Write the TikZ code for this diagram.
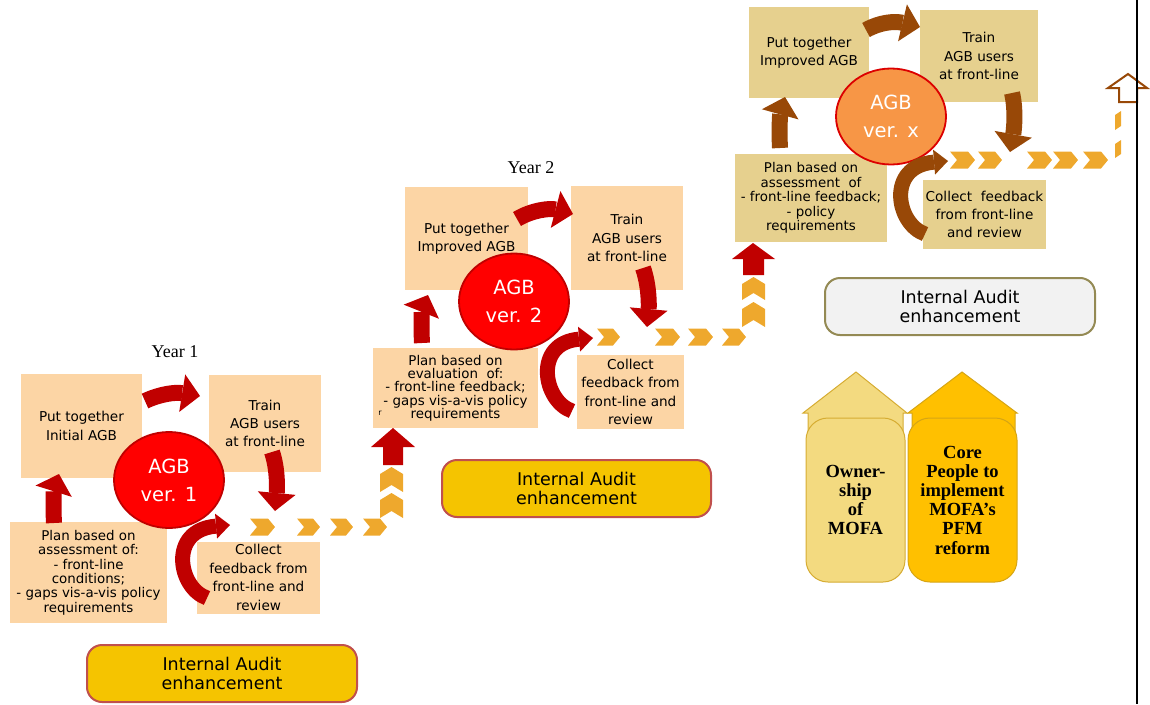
\documentclass[tikz,border=0pt]{standalone}
\usepackage{fontspec}
\setmainfont{DejaVu Sans}
\newfontfamily\yearfont{Liberation Serif}
\usetikzlibrary{arrows.meta,shapes.geometric}

\definecolor{peach}{RGB}{252,213,165}
\definecolor{tan}{RGB}{230,208,142}
\definecolor{arrred}{RGB}{192,0,0}
\definecolor{arrbrown}{RGB}{152,72,7}
\definecolor{chevcol}{RGB}{238,168,45}
\definecolor{circred}{RGB}{255,0,0}
\definecolor{circedge}{RGB}{192,0,0}
\definecolor{circorange}{RGB}{247,150,70}
\definecolor{circxedge}{RGB}{220,0,0}
\definecolor{iagold}{RGB}{245,196,0}
\definecolor{iaedge}{RGB}{192,80,77}
\definecolor{iagrey}{RGB}{242,242,242}
\definecolor{iagreyedge}{RGB}{148,138,84}
\definecolor{houselight}{RGB}{243,218,128}
\definecolor{houselightedge}{RGB}{214,172,50}
\definecolor{housegold}{RGB}{255,192,0}
\definecolor{housegoldedge}{RGB}{214,165,20}

% right-pointing chevron: x0, x1, y centre
\newcommand\chevright[3]{\fill[chevcol] (#1,#3-8.5) -- (#2-7,#3-8.5) -- (#2,#3) -- (#2-7,#3+8.5) -- (#1,#3+8.5) -- (#1+7,#3) -- cycle;}
% up-pointing chevron: x0, x1, y top, y bottom
\newcommand\chevup[4]{\fill[chevcol] (#1,#4) -- (#1,#3+7) -- ({(#1+#2)/2},#3) -- (#2,#3+7) -- (#2,#4) -- ({(#1+#2)/2},#4-7) -- cycle;}

\begin{document}
\begin{tikzpicture}[x=1pt,y=-1pt,
  box/.style={inner sep=0pt, align=center, font=\fontsize{13.6}{18.4}\selectfont},
  peachbox/.style={box, fill=peach},
  tanbox/.style={box, fill=tan},
  planfont/.style={font=\fontsize{13.4}{14.4}\selectfont},
  agb/.style={ellipse, minimum width=110, minimum height=96, inner sep=0pt, line width=1.8pt,
    text=white, align=center, font=\fontsize{19.5}{28}\selectfont},
  iabox/.style={rounded corners=15pt, line width=2pt, minimum width=269, minimum height=57,
    inner sep=0pt, align=center, font=\fontsize{17.5}{19.5}\selectfont},
  yearlbl/.style={font=\yearfont\fontsize{18}{20}\selectfont},
  housetext/.style={rounded corners=22pt, line width=1pt, minimum height=164, inner sep=0pt,
    align=center, font=\yearfont\bfseries\fontsize{18.5}{19.2}\selectfont},
  bigred/.style={line width=16pt, draw=arrred, -{Triangle[width=38pt,length=18pt,line width=0pt]}},
  bigbrown/.style={line width=16pt, draw=arrbrown, -{Triangle[width=38pt,length=18pt,line width=0pt]}},
  curlred/.style={line width=15pt, draw=arrred, -{Triangle[width=25pt,length=14pt,line width=0pt]}},
  curlbrown/.style={line width=15pt, draw=arrbrown, -{Triangle[width=25pt,length=14pt,line width=0pt]}}
]
\useasboundingbox (0,0) rectangle (1150,704);

% ---------------- Year 1 cycle ----------------
\node[yearlbl] (y1) at (175,352) {Year 1};
\node[peachbox, minimum width=121, minimum height=104] (p1) at (81.5,426) {Put together\\Initial AGB};
\node[peachbox, minimum width=112, minimum height=97] (t1) at (265,423.5) {Train\\AGB users\\at front-line};
\node[peachbox, planfont, minimum width=157, minimum height=101] (l1) at (88.5,572.5)
  {Plan based on\\assessment of:\\- front-line\\conditions;\\- gaps vis-a-vis policy\\requirements};
\node[peachbox, minimum width=123, minimum height=72] (c1) at (258.5,577.5) {Collect\\feedback from\\front-line and\\review};
\node[agb, fill=circred, draw=circedge] (v1) at (169,480) {AGB\\ver. 1};

% ---------------- Year 2 cycle ----------------
\node[yearlbl] (y2) at (531,168) {Year 2};
\node[peachbox, minimum width=123, minimum height=103] (p2) at (466.5,238.5) {Put together\\Improved AGB};
\node[peachbox, minimum width=112, minimum height=104] (t2) at (627,238) {Train\\AGB users\\at front-line};
\node[peachbox, font=\fontsize{13.4}{13.3}\selectfont, minimum width=165, minimum height=80] (l2) at (455.5,388)
  {Plan based on\\evaluation\ \ of:\\- front-line feedback;\\- gaps vis-a-vis policy\\requirements};
\node[font=\fontsize{8}{9}\selectfont, inner sep=0pt] (rr) at (380,413) {r};
\node[peachbox, minimum width=107, minimum height=74] (c2) at (630.5,392) {Collect\\feedback from\\front-line and\\review};
\node[agb, fill=circred, draw=circedge] (v2) at (514,301.5) {AGB\\ver. 2};

% ---------------- Year x cycle ----------------
\node[tanbox, minimum width=120, minimum height=91] (p3) at (809,52.5) {Put together\\Improved AGB};
\node[tanbox, minimum width=118, minimum height=92] (t3) at (979,56) {Train\\AGB users\\at front-line};
\node[tanbox, planfont, minimum width=152, minimum height=88] (l3) at (811,198)
  {Plan based on\\assessment\ \ of\\- front-line feedback;\\- policy\\requirements};
\node[tanbox, minimum width=123, minimum height=69] (c3) at (984.5,214.5) {Collect\ \ feedback\\from front-line\\and review};
\node[agb, fill=circorange, draw=circxedge] (v3) at (891,116.5) {AGB\\ver. x};

% ---------------- Internal Audit labels ----------------
\node[iabox, fill=iagold, draw=iaedge, minimum width=270] (ia1) at (222,673.5) {Internal Audit\\enhancement};
\node[iabox, fill=iagold, draw=iaedge] (ia2) at (576.5,488.5) {Internal Audit\\enhancement};
\node[iabox, fill=iagrey, draw=iagreyedge, minimum width=270] (ia3) at (960,306.5) {Internal Audit\\enhancement};

% ---------------- progress paths ----------------
\chevright{250}{275}{527}
\chevright{297}{320}{527}
\chevright{330}{353}{527}
\chevright{363}{387}{527}
\chevup{380}{403}{493}{518}
\chevup{380}{403}{467}{492}
\fill[arrred] (393,428) -- (415,447) -- (403,447) -- (403,465) -- (383,465) -- (383,447) -- (371,447) -- cycle;

\chevright{597}{620}{337}
\chevright{655}{680}{337}
\chevright{688}{713}{337}
\chevright{722}{746}{337}
\chevup{742}{765}{302}{327}
\chevup{742}{765}{277}{300}
\fill[arrred] (753,243) -- (775,259) -- (764,259) -- (764,275) -- (743,275) -- (743,259) -- (732,259) -- cycle;

\chevright{950}{975}{160}
\chevright{978}{1002}{160}
\chevright{1027}{1052}{160}
\chevright{1053}{1078}{160}
\chevright{1083}{1108}{160}
\fill[chevcol] (1115,144) -- (1121,140) -- (1121,154) -- (1115,158) -- cycle;
\fill[chevcol] (1115,115) -- (1121,111) -- (1121,126) -- (1115,130) -- cycle;
\filldraw[fill=white, draw=arrbrown, line width=2pt, line join=miter]
  (1128,74) -- (1147,88) -- (1137,88) -- (1137,102) -- (1119,102) -- (1119,88) -- (1108,88) -- cycle;

% ---------------- cycle arrows, Year 1 ----------------
\coordinate (a1s) at (145,401); \coordinate (a1e) at (200,396);
\coordinate (b1s) at (272,452); \coordinate (b1e) at (275,511);
\coordinate (d1s) at (54,523);  \coordinate (d1e) at (59,474);
\coordinate (e1s) at (207,598); \coordinate (e1e) at (230,525);
\draw[bigred] (a1s) .. controls (160,394) and (175,392) .. (a1e);
\draw[bigred] (b1s) .. controls (278,470) and (277,490) .. (b1e);
\draw[bigred] (d1s) .. controls (53,505) and (54,490) .. (d1e);
\draw[curlred] (e1s) .. controls (178,588) and (168,530) .. (e1e);

% ---------------- cycle arrows, Year 2 ----------------
\coordinate (a2s) at (517,219); \coordinate (a2e) at (573,214);
\coordinate (b2s) at (643,268); \coordinate (b2e) at (647,327);
\coordinate (d2s) at (422,343); \coordinate (d2e) at (428,295);
\coordinate (e2s) at (572,411); \coordinate (e2e) at (593,338);
\draw[bigred] (a2s) .. controls (532,210) and (550,208) .. (a2e);
\draw[bigred] (b2s) .. controls (649,285) and (649,305) .. (b2e);
\draw[bigred] (d2s) .. controls (421,325) and (422,310) .. (d2e);
\draw[curlred] (e2s) .. controls (543,401) and (533,343) .. (e2e);

% ---------------- cycle arrows, Year x ----------------
\coordinate (a3s) at (866,30);  \coordinate (a3e) at (920,27);
\coordinate (b3s) at (1012,93); \coordinate (b3e) at (1010,152);
\coordinate (d3s) at (780,148); \coordinate (d3e) at (785,97);
\coordinate (e3s) at (925,234); \coordinate (e3e) at (948,161);
\draw[bigbrown] (a3s) .. controls (880,22) and (895,21) .. (a3e);
\draw[bigbrown] (b3s) .. controls (1016,110) and (1014,130) .. (b3e);
\draw[bigbrown] (d3s) .. controls (779,130) and (780,115) .. (d3e);
\draw[curlbrown] (e3s) .. controls (896,224) and (886,166) .. (e3e);

% ---------------- foundation pillars ----------------
\filldraw[fill=houselight, draw=houselightedge, line width=1pt]
  (856,372) -- (907,413) -- (903,413) -- (903,440) -- (808,440) -- (808,413) -- (803,413) -- cycle;
\filldraw[fill=housegold, draw=housegoldedge, line width=1pt]
  (962,372) -- (1017,413) -- (1015,413) -- (1015,440) -- (912,440) -- (912,413) -- (908,413) -- cycle;
\node[housetext, fill=houselight, draw=houselightedge, minimum width=99] (own) at (855.5,500)
  {Owner-\\ship\\of\\MOFA};
\node[housetext, fill=housegold, draw=housegoldedge, minimum width=109] (core) at (962.5,500)
  {Core\\People to\\implement\\MOFA’s\\PFM\\reform};

% ---------------- right margin rule ----------------
\coordinate (rt) at (1137,0); \coordinate (rb) at (1137,704);
\draw[line width=2pt] (rt) -- (rb);
\end{tikzpicture}
\end{document}
